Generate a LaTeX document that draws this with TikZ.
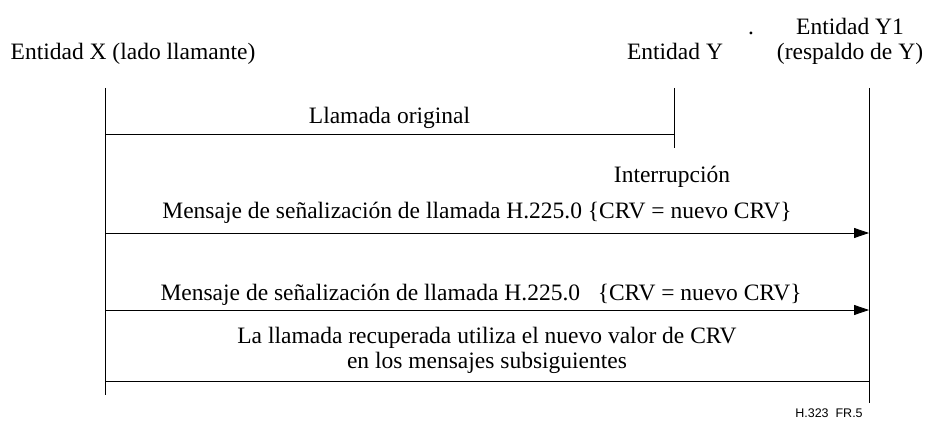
\documentclass[tikz,border=0pt]{standalone}
\usepackage{fontspec}
\setmainfont{Liberation Serif}
\setsansfont{Liberation Sans}
\usetikzlibrary{arrows.meta,positioning}

\begin{document}
\begin{tikzpicture}[x=1pt,y=-1pt,font=\fontsize{23.5}{25}\selectfont,>={Triangle[length=15pt,width=10pt]},line width=0.8pt,
  lbl/.style={anchor=base,inner sep=0pt}]
\useasboundingbox (0,0) rectangle (927,428);
\node[lbl] (entX) at (133,60) {Entidad X (lado llamante)};
\node[lbl] (entY) at (675,60) {Entidad Y};
\node[lbl] (entYi) at (850,35) {Entidad Y1};
\node[lbl] (respY) at (850,60) {(respaldo de Y)};
\node[lbl] (punto) at (751,35) {.};
\coordinate (xTop) at (105,88);
\coordinate (xBot) at (105,395);
\coordinate (yTop) at (674,88);
\coordinate (yBot) at (674,148);
\coordinate (yiTop) at (869,88);
\coordinate (yiBot) at (869,403);
\foreach \n in {x,y,yi}{\draw (\n Top) -- (\n Bot);}
\draw (xTop |- 0,134) -- node[lbl,yshift=11pt]{Llamada original} (yTop |- 0,134);
\node[lbl] (intr) at (672,182) {Interrupción};
\draw[->] (xTop |- 0,233) -- node[lbl,yshift=15pt,xshift=-10pt]{Mensaje de señalización de llamada H.225.0 \{CRV = nuevo CRV\}} (yiTop |- 0,233);
\draw[->] (xTop |- 0,310) -- node[lbl,yshift=10pt,xshift=-6pt]{Mensaje de señalización de llamada H.225.0 \ \ \{CRV = nuevo CRV\}} (yiTop |- 0,310);
\draw (xTop |- 0,381) -- node[lbl,align=center,yshift=13pt]{La llamada recuperada utiliza el nuevo valor de CRV\\en los mensajes subsiguientes} (yiTop |- 0,381);
\node[lbl,font=\sffamily\fontsize{12.5}{14}\selectfont] (fig) at (829,417) {H.323\ \ FR.5};
\end{tikzpicture}
\end{document}
